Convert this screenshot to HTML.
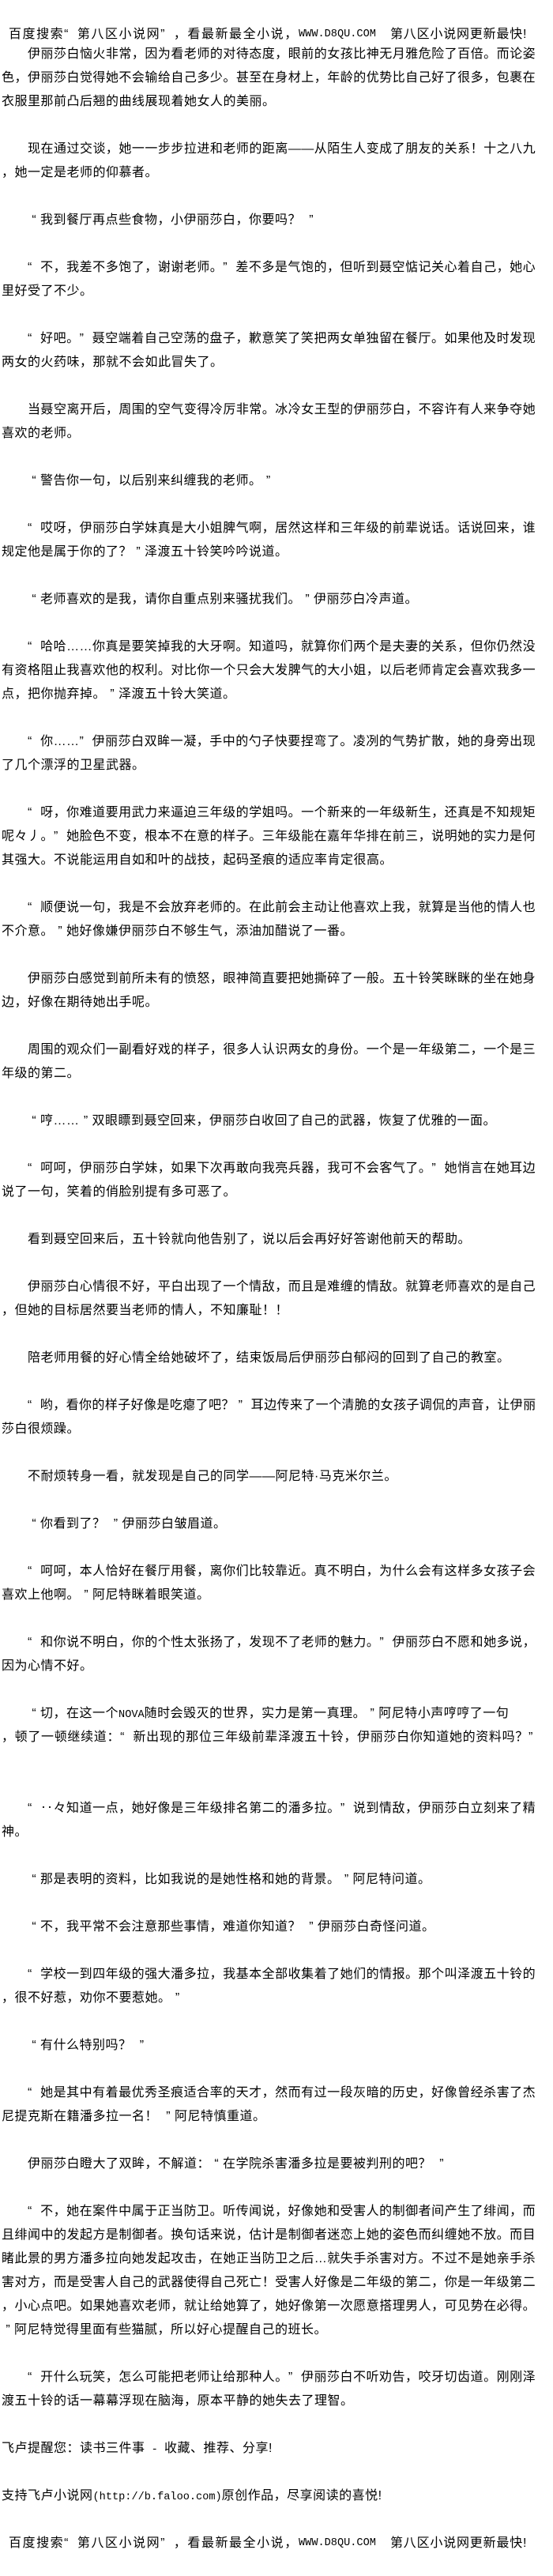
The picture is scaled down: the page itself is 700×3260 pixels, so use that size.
<!DOCTYPE html>
<html lang="zh-CN">
<head>
<meta charset="utf-8">
<style>
html,body{margin:0;padding:0;background:#fff;}
body{width:700px;height:3260px;overflow:hidden;position:relative;font-family:"Liberation Sans","Noto Sans CJK SC",sans-serif;font-size:16px;color:#000;}
#t{position:absolute;left:2px;top:54px;width:676px;}
#t div{height:30px;line-height:30px;white-space:nowrap;}
#t .f{text-align:justify;text-align-last:justify;letter-spacing:0.4px;}
#t .p{letter-spacing:0.5px;}
i{font-style:normal;display:inline-block;width:1em;text-align:center;letter-spacing:0;}
.m{font-family:"Liberation Mono",monospace;font-size:13.6px;letter-spacing:0;}
.h{position:absolute;left:0;width:700px;height:30px;line-height:30px;white-space:nowrap;}
.h .a{position:absolute;left:11px;top:0;width:366px;text-align:justify;text-align-last:justify;letter-spacing:.8px;}
.h .b{position:absolute;left:378px;top:0;}
.h .c{position:absolute;left:494px;top:0;letter-spacing:.8px;}
</style>
</head>
<body>

<div class="h" style="top:29px"><span class="a">百度搜索<i>“</i>第八区小说网<i>”</i>，看最新最全小说，</span><span class="m b">WWW.D8QU.COM</span><span class="c">第八区小说网更新最快!</span></div>

<div id="t">
<div class="f">　　伊丽莎白恼火非常，因为看老师的对待态度，眼前的女孩比神无月雅危险了百倍。而论姿</div>
<div class="f">色，伊丽莎白觉得她不会输给自己多少。甚至在身材上，年龄的优势比自己好了很多，包裹在</div>
<div class="p">衣服里那前凸后翘的曲线展现着她女人的美丽。</div>
<div></div>
<div class="f">　　现在通过交谈，她一一步步拉进和老师的距离——从陌生人变成了朋友的关系！十之八九</div>
<div class="p">，她一定是老师的仰慕者。</div>
<div></div>
<div class="p">　　<i>“</i>我到餐厅再点些食物，小伊丽莎白，你要吗？ <i>”</i></div>
<div></div>
<div class="f">　　<i>“</i>不，我差不多饱了，谢谢老师。<i>”</i>差不多是气饱的，但听到聂空惦记关心着自己，她心</div>
<div class="p">里好受了不少。</div>
<div></div>
<div class="f">　　<i>“</i>好吧。<i>”</i>聂空端着自己空荡的盘子，歉意笑了笑把两女单独留在餐厅。如果他及时发现</div>
<div class="p">两女的火药味，那就不会如此冒失了。</div>
<div></div>
<div class="f">　　当聂空离开后，周围的空气变得冷厉非常。冰冷女王型的伊丽莎白，不容许有人来争夺她</div>
<div class="p">喜欢的老师。</div>
<div></div>
<div class="p">　　<i>“</i>警告你一句，以后别来纠缠我的老师。<i>”</i></div>
<div></div>
<div class="f">　　<i>“</i>哎呀，伊丽莎白学妹真是大小姐脾气啊，居然这样和三年级的前辈说话。话说回来，谁</div>
<div class="p">规定他是属于你的了？<i>”</i>泽渡五十铃笑吟吟说道。</div>
<div></div>
<div class="p">　　<i>“</i>老师喜欢的是我，请你自重点别来骚扰我们。<i>”</i>伊丽莎白冷声道。</div>
<div></div>
<div class="f">　　<i>“</i>哈哈……你真是要笑掉我的大牙啊。知道吗，就算你们两个是夫妻的关系，但你仍然没</div>
<div class="f">有资格阻止我喜欢他的权利。对比你一个只会大发脾气的大小姐，以后老师肯定会喜欢我多一</div>
<div class="p">点，把你抛弃掉。<i>”</i>泽渡五十铃大笑道。</div>
<div></div>
<div class="f">　　<i>“</i>你……<i>”</i>伊丽莎白双眸一凝，手中的勺子快要捏弯了。凌冽的气势扩散，她的身旁出现</div>
<div class="p">了几个漂浮的卫星武器。</div>
<div></div>
<div class="f">　　<i>“</i>呀，你难道要用武力来逼迫三年级的学姐吗。一个新来的一年级新生，还真是不知规矩</div>
<div class="f">呢々丿。<i>”</i>她脸色不变，根本不在意的样子。三年级能在嘉年华排在前三，说明她的实力是何</div>
<div class="p">其强大。不说能运用自如和叶的战技，起码圣痕的适应率肯定很高。</div>
<div></div>
<div class="f">　　<i>“</i>顺便说一句，我是不会放弃老师的。在此前会主动让他喜欢上我，就算是当他的情人也</div>
<div class="p">不介意。<i>”</i>她好像嫌伊丽莎白不够生气，添油加醋说了一番。</div>
<div></div>
<div class="f">　　伊丽莎白感觉到前所未有的愤怒，眼神简直要把她撕碎了一般。五十铃笑眯眯的坐在她身</div>
<div class="p">边，好像在期待她出手呢。</div>
<div></div>
<div class="f">　　周围的观众们一副看好戏的样子，很多人认识两女的身份。一个是一年级第二，一个是三</div>
<div class="p">年级的第二。</div>
<div></div>
<div class="p">　　<i>“</i>哼……<i>”</i>双眼瞟到聂空回来，伊丽莎白收回了自己的武器，恢复了优雅的一面。</div>
<div></div>
<div class="f">　　<i>“</i>呵呵，伊丽莎白学妹，如果下次再敢向我亮兵器，我可不会客气了。<i>”</i>她悄言在她耳边</div>
<div class="p">说了一句，笑着的俏脸别提有多可恶了。</div>
<div></div>
<div class="p">　　看到聂空回来后，五十铃就向他告别了，说以后会再好好答谢他前天的帮助。</div>
<div></div>
<div class="f">　　伊丽莎白心情很不好，平白出现了一个情敌，而且是难缠的情敌。就算老师喜欢的是自己</div>
<div class="p">，但她的目标居然要当老师的情人，不知廉耻！！</div>
<div></div>
<div class="p">　　陪老师用餐的好心情全给她破坏了，结束饭局后伊丽莎白郁闷的回到了自己的教室。</div>
<div></div>
<div class="f">　　<i>“</i>哟，看你的样子好像是吃瘪了吧？ <i>”</i>耳边传来了一个清脆的女孩子调侃的声音，让伊丽</div>
<div class="p">莎白很烦躁。</div>
<div></div>
<div class="p">　　不耐烦转身一看，就发现是自己的同学——阿尼特·马克米尔兰。</div>
<div></div>
<div class="p">　　<i>“</i>你看到了？ <i>”</i>伊丽莎白皱眉道。</div>
<div></div>
<div class="f">　　<i>“</i>呵呵，本人恰好在餐厅用餐，离你们比较靠近。真不明白，为什么会有这样多女孩子会</div>
<div class="p">喜欢上他啊。<i>”</i>阿尼特眯着眼笑道。</div>
<div></div>
<div class="f">　　<i>“</i>和你说不明白，你的个性太张扬了，发现不了老师的魅力。<i>”</i>伊丽莎白不愿和她多说，</div>
<div class="p">因为心情不好。</div>
<div></div>
<div class="p">　　<i>“</i>切，在这一个<span class="m">NOVA</span>随时会毁灭的世界，实力是第一真理。<i>”</i>阿尼特小声哼哼了一句</div>
<div class="f" style="width:683px">，顿了一顿继续道：<i>“</i>新出现的那位三年级前辈泽渡五十铃，伊丽莎白你知道她的资料吗？<i>”</i></div>
<div></div>
<div></div>
<div class="f">　　<i>“</i>‥々知道一点，她好像是三年级排名第二的潘多拉。<i>”</i>说到情敌，伊丽莎白立刻来了精</div>
<div class="p">神。</div>
<div></div>
<div class="p">　　<i>“</i>那是表明的资料，比如我说的是她性格和她的背景。<i>”</i>阿尼特问道。</div>
<div></div>
<div class="p">　　<i>“</i>不，我平常不会注意那些事情，难道你知道？ <i>”</i>伊丽莎白奇怪问道。</div>
<div></div>
<div class="f">　　<i>“</i>学校一到四年级的强大潘多拉，我基本全部收集着了她们的情报。那个叫泽渡五十铃的</div>
<div class="p">，很不好惹，劝你不要惹她。<i>”</i></div>
<div></div>
<div class="p">　　<i>“</i>有什么特别吗？ <i>”</i></div>
<div></div>
<div class="f">　　<i>“</i>她是其中有着最优秀圣痕适合率的天才，然而有过一段灰暗的历史，好像曾经杀害了杰</div>
<div class="p">尼提克斯在籍潘多拉一名！ <i>”</i>阿尼特慎重道。</div>
<div></div>
<div class="p">　　伊丽莎白瞪大了双眸，不解道：<i>“</i>在学院杀害潘多拉是要被判刑的吧？ <i>”</i></div>
<div></div>
<div class="f">　　<i>“</i>不，她在案件中属于正当防卫。听传闻说，好像她和受害人的制御者间产生了绯闻，而</div>
<div class="f">且绯闻中的发起方是制御者。换句话来说，估计是制御者迷恋上她的姿色而纠缠她不放。而目</div>
<div class="f">睹此景的男方潘多拉向她发起攻击，在她正当防卫之后…就失手杀害对方。不过不是她亲手杀</div>
<div class="f">害对方，而是受害人自己的武器使得自己死亡！受害人好像是二年级的第二，你是一年级第二</div>
<div class="f">，小心点吧。如果她喜欢老师，就让给她算了，她好像第一次愿意搭理男人，可见势在必得。</div>
<div class="p"><i>”</i>阿尼特觉得里面有些猫腻，所以好心提醒自己的班长。</div>
<div></div>
<div class="f">　　<i>“</i>开什么玩笑，怎么可能把老师让给那种人。<i>”</i>伊丽莎白不听劝告，咬牙切齿道。刚刚泽</div>
<div class="p">渡五十铃的话一幕幕浮现在脑海，原本平静的她失去了理智。</div>
<div></div>
<div class="p">飞卢提醒您：读书三件事<span class="m"> - </span>收藏、推荐、分享!</div>
<div></div>
<div class="p">支持飞卢小说网<span class="m">(http://b.faloo.com)</span>原创作品，尽享阅读的喜悦!</div>
</div>

<div class="h" style="top:3204px"><span class="a">百度搜索<i>“</i>第八区小说网<i>”</i>，看最新最全小说，</span><span class="m b">WWW.D8QU.COM</span><span class="c">第八区小说网更新最快!</span></div>

</body>
</html>
